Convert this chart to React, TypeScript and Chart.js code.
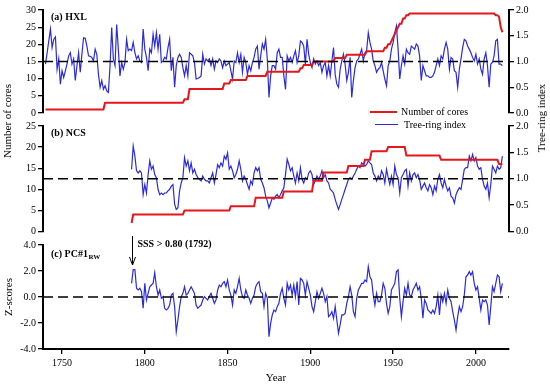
import React, { useEffect, useRef } from 'react';
import { Chart, registerables } from 'chart.js';

Chart.register(...registerables);

// ---------- data ----------
const X_MIN = 1738.5;
const X_MAX = 2020;
const xTickYears = [1750, 1800, 1850, 1900, 1950, 2000];
const SSS_YEAR = 1792;

// (a) HXL tree-ring index, annual from 1740
const hxlStart = 1740;
const hxlIndex = [
  0.95, 1.17, 1.40, 1.63, 1.27, 1.43, 1.48, 0.85, 1.05, 0.56,
  0.82, 0.69, 0.82, 0.95, 1.11, 1.17, 0.95, 1.05, 0.63, 0.92,
  1.17, 0.79, 1.14, 1.46, 1.45, 1.30, 1.11, 1.10, 1.08, 1.01,
  1.24, 1.14, 0.75, 0.50, 0.63, 0.46, 0.53, 0.43, 0.40, 0.92,
  1.66, 1.05, 0.92, 1.72, 1.24, 0.72, 0.98, 0.85, 0.98, 1.43,
  1.21, 1.24, 1.21, 1.37, 1.17, 1.05, 1.11, 1.01, 0.98, 1.63,
  1.24, 1.08, 0.82, 1.24, 1.17, 1.53, 1.30, 1.56, 1.24, 1.53,
  0.98, 1.01, 1.08, 1.05, 1.27, 1.43, 0.82, 1.08, 0.50, 0.92,
  1.08, 1.14, 1.08, 0.88, 0.72, 0.92, 0.72, 1.17, 1.14, 1.11,
  0.98, 0.66, 0.67, 0.69, 0.72, 1.14, 0.95, 1.05, 1.01, 1.05,
  0.92, 1.05, 0.85, 1.01, 0.98, 1.05, 1.01, 0.88, 1.01, 0.92,
  0.95, 0.98, 0.82, 0.66, 1.01, 0.98, 1.17, 0.98, 1.14, 0.79,
  1.08, 0.98, 0.75, 0.92, 0.82, 0.98, 1.08, 1.24, 1.30, 0.85,
  1.11, 1.34, 1.24, 1.43, 1.05, 0.30, 0.72, 0.92, 0.92, 0.85,
  1.17, 1.24, 1.08, 1.08, 0.72, 0.46, 1.11, 1.01, 1.08, 0.98,
  1.11, 1.21, 0.98, 1.11, 1.40, 1.37, 1.30, 0.95, 1.43, 1.14,
  0.98, 0.88, 1.05, 0.95, 1.01, 0.92, 0.98, 0.79, 0.92, 0.98,
  0.72, 0.92, 0.72, 1.01, 1.27, 0.75, 0.56, 0.50, 0.85, 1.01,
  1.14, 0.95, 0.63, 0.79, 1.08, 0.30, 0.63, 0.88, 1.01, 1.05,
  1.14, 1.24, 1.01, 1.17, 1.21, 1.56, 1.37, 1.24, 1.01, 0.92,
  0.79, 0.85, 0.88, 0.98, 0.82, 0.66, 0.53, 0.92, 1.01, 1.24,
  1.37, 1.56, 1.69, 1.24, 0.66, 0.92, 1.11, 0.95, 1.24, 1.17,
  1.14, 1.30, 1.27, 1.24, 1.34, 1.30, 1.11, 0.63, 0.92, 0.82,
  0.72, 0.72, 0.69, 0.69, 0.72, 0.79, 0.92, 1.05, 0.92, 1.11,
  1.05, 1.24, 1.37, 1.24, 0.85, 1.08, 1.05, 0.82, 0.79, 0.50,
  0.85, 1.05, 1.27, 1.43, 1.40, 1.30, 1.24, 1.17, 1.08, 1.01,
  1.14, 0.95, 1.05, 0.85, 0.75, 1.05, 1.17, 0.92, 0.50, 0.95,
  0.98, 1.11, 1.40, 1.43, 0.95, 0.95, 0.92,
];

// (a) HXL number of cores (change points)
const hxlCoreYears = [
  1740, 1775, 1776, 1823, 1824, 1826, 1827, 1847, 1848, 1851, 1852, 1861, 1862, 1873,
  1874, 1893, 1894, 1895, 1896, 1901, 1902, 1914, 1915, 1921, 1922, 1933, 1934, 1944,
  1945, 1946, 1947, 1948, 1949, 1950, 1951, 1952, 1953, 1954, 1955, 1956, 1957, 1958,
  1959, 1960, 2011, 2012, 2013, 2014, 2015, 2016,
];
const hxlCoreCounts = [
  1, 1, 3, 3, 4, 4, 7, 7, 8.6, 8.6, 9.6, 9.6, 10.8, 10.8,
  12, 12, 13, 13, 14, 14, 15, 15, 16, 16, 17, 17, 18, 18,
  19, 19, 20, 20, 21, 22, 23, 24, 25, 26, 26, 27.5, 27.5, 28.5,
  28.5, 29, 29, 28.5, 28.5, 28, 25, 23.5,
];

// (b) NCS tree-ring index, annual from 1792
const ncsStart = 1792;
const ncsIndex = [
  1.18, 1.62, 1.43, 1.15, 1.11, 1.15, 1.11, 0.70, 0.89, 0.73,
  1.08, 1.34, 1.18, 1.24, 1.08, 1.02, 0.80, 0.70, 0.73, 0.70,
  0.73, 0.73, 0.77, 0.80, 0.86, 0.89, 0.52, 0.42, 0.45, 0.77,
  0.92, 1.02, 1.40, 1.24, 1.34, 1.15, 1.30, 1.11, 1.18, 1.08, 1.02, 0.99,
  0.96, 1.05, 0.99, 0.96, 0.96, 0.92, 1.02, 1.11,
  0.92, 1.08, 1.27, 1.21, 1.30, 1.24, 1.43, 1.37, 1.49, 1.18,
  1.24, 1.15, 1.02, 1.08, 1.18, 1.34, 1.18, 0.96, 1.05, 0.99,
  0.89, 0.80, 0.96, 0.89, 1.11, 1.21, 1.15, 1.21, 0.99, 0.92,
  0.83, 0.67, 0.58, 0.45, 0.54, 0.64, 0.61, 0.67, 0.70, 0.64,
  0.70, 0.77, 0.83, 1.08, 1.37, 1.27, 1.15, 1.21, 1.05, 0.92,
  1.11, 0.96, 1.21, 0.99, 0.92, 1.02, 0.99, 1.11, 1.15, 1.08,
  0.89, 0.96, 1.05, 0.99, 1.05, 1.15, 1.02, 1.08, 0.96, 0.92,
  0.80, 0.77, 0.73, 0.61, 0.51, 0.42, 0.51, 0.61, 0.70, 0.80,
  0.89, 0.99, 1.02, 0.99, 1.05, 1.11, 1.18, 1.24, 1.21, 1.30,
  1.27, 1.24, 1.27, 1.34, 1.30, 1.27, 1.11, 1.05, 0.96, 1.05,
  0.99, 1.15, 1.08, 0.92, 1.18, 1.02, 0.89, 1.05, 0.89, 1.24,
  1.08, 1.02, 0.73, 1.02, 1.08, 1.15, 1.18, 0.86, 1.11, 0.96,
  1.08, 1.11, 1.02, 1.08, 0.99, 0.80, 0.86, 0.92, 0.83, 0.77,
  0.89, 0.83, 0.70, 0.86, 0.77, 0.99, 1.08, 0.92, 0.83, 0.99,
  0.86, 0.77, 0.83, 0.67, 0.64, 0.54, 0.70, 0.77, 0.83, 0.80,
  0.99, 1.18, 1.21, 1.21, 1.43, 1.34, 1.46, 1.34, 1.40, 1.24,
  1.18, 1.21, 0.99, 0.86, 0.80, 0.92, 0.64, 0.89, 1.24, 1.18,
  1.11, 1.24, 1.18, 1.21, 1.43,
];

// (b) NCS number of cores (change points)
const ncsCoreYears = [
  1792, 1793, 1823, 1824, 1851, 1852, 1866, 1867, 1883, 1884, 1901, 1902, 1907, 1908,
  1922, 1923, 1932, 1933, 1936, 1937, 1946, 1947, 1957, 1958, 1978, 1979, 2013, 2014, 2016,
];
const ncsCoreCounts = [
  2, 4, 4, 5, 5, 6, 6, 8, 8, 9.5, 9.5, 12, 12, 14,
  14, 15.5, 15.5, 17, 17, 19, 19, 20, 20, 18, 18, 17, 17, 16, 16,
];

// (c) PC#1 RW z-scores, annual from 1792
const pcStart = 1792;
const pcScores = [
  1.05, 2.10, 2.10, 0.67, 0.54, 0.67, 0.41, -0.87, 1.05, -0.23,
  0.28, 0.79, 0.92, 1.05, 1.87, 0.79, 0.15, 0.54, -0.10, 0.03,
  -0.87, -1.00, -0.87, -0.62, 0.15, 0.28, -0.74, -2.67, -1.77, -0.74,
  0.03, 0.28, 0.79, 0.15, 0.28, 0.54, 0.79, 0.54, 0.28, -0.62, -0.87, -0.74,
  -0.62, -0.23, 0.03, -0.10, -0.23, 0.03, 0.28, -0.10, -0.49, -0.23,
  0.54, 0.92, 0.79, 1.05, 1.18, 0.79, 1.31, 0.54, 0.15, -0.62,
  0.54, 0.28, 0.79, 1.44, 0.54, 0.03, -0.10, 0.54, 0.15, -0.10,
  -0.49, -0.10, 0.15, 0.79, 1.05, 1.18, 0.41, 0.28, -0.74, 0.28,
  -0.10, -3.05, -2.03, -1.38, -1.00, -1.13, -0.74, -0.49, 0.28, 0.67,
  -0.10, -0.62, 1.05, 0.54, 0.92, 0.15, 0.92, 0.03, 1.18, -0.62,
  1.44, 1.31, 1.05, 0.15, 1.18, 0.67, 0.15, -0.74, -1.13, -0.36,
  0.41, -0.10, 0.28, 0.67, 0.28, -0.36, 0.03, -1.51, -1.38, -1.13,
  -1.64, -0.74, -1.77, -2.79, -2.15, -1.38, -1.38, -1.26, -0.49, 0.03,
  0.79, 0.15, -1.13, -1.51, -0.10, 0.54, 0.79, 1.05, 1.05, 1.31,
  1.18, 2.33, 1.56, 1.31, 0.15, -0.62, 0.28, -0.36,
  -0.36, 0.15, 1.05, 0.67, -0.49, -1.26, -0.74, 0.54, 0.79, 1.05,
  1.95, 2.08, -0.10, -1.51, -0.36, 0.67, 0.15, 1.05, 0.15, 0.03,
  0.54, 0.79, 1.05, 0.54, 0.79, -0.10, -1.64, -0.23, -0.49, -1.00,
  -1.13, -1.26, -1.00, -1.26, -0.74, 0.15, -1.38, 0.15, -0.36, 0.28,
  -0.49, 0.54, -0.10, -0.36, -1.13, -1.77, -2.54, -1.51, -0.74, -1.13,
  -0.74, 0.15, 1.56, 1.69, 1.95, 1.69, 1.95, 1.05, 0.54, 0.79,
  -0.10, -1.00, -0.23, -0.36, -0.23, -0.62, -2.15, -0.74, 0.79, 0.41,
  1.05, 1.69, 1.56, 0.41, 1.05,
];

const indexMean = 1.0;
const zMean = 0.0;

// ---------- styling ----------
const FONT = '"Liberation Serif", "Times New Roman", Times, serif';
const RED = '#e5161c';
const BLUE = '#2b2bdb';
const W = 550;
const H = 387;

const annual = (start: number, vals: number[]) => vals.map((v, i) => ({ x: start + i, y: v }));
const pairs = (xs: number[], ys: number[]) => xs.map((x, i) => ({ x, y: ys[i] }));

const tickFont = { family: FONT, size: 10 };

function yAxis(position: 'left' | 'right', min: number, max: number, step: number, width: number, decimals: number, title?: string) {
  return {
    type: 'linear',
    position,
    min,
    max,
    ticks: {
      stepSize: step,
      color: '#000',
      font: tickFont,
      padding: 2,
      callback: (v: any) => Number(v).toFixed(decimals),
    },
    grid: { drawOnChartArea: false, drawTicks: true, tickLength: 5, color: '#000', lineWidth: 1.3 },
    border: { display: true, color: '#000', width: 2 },
    title: title
      ? { display: true, text: title, color: '#000', font: { family: FONT, size: 11 }, padding: { top: 3, bottom: 0 } }
      : { display: false },
    afterFit: (s: any) => {
      s.width = width;
    },
  };
}

function hiddenX() {
  return { type: 'linear', min: X_MIN, max: X_MAX, display: false };
}

function meanLine(value: number, axis: string) {
  return {
    data: [
      { x: X_MIN, y: value },
      { x: X_MAX, y: value },
    ],
    yAxisID: axis,
    borderColor: '#000',
    borderWidth: 1.6,
    borderDash: [10, 5],
    pointRadius: 0,
  };
}

function panelLabel(main: string, sub: string | null, dy: number) {
  return {
    id: 'panelLabel',
    afterDraw(chart: any) {
      const { ctx, chartArea } = chart;
      ctx.save();
      ctx.fillStyle = '#000';
      ctx.font = `bold 10px ${FONT}`;
      ctx.textBaseline = 'middle';
      const x = chartArea.left + 8;
      const y = chartArea.top + dy;
      ctx.fillText(main, x, y);
      if (sub) {
        const w = ctx.measureText(main).width;
        ctx.font = `bold 7px ${FONT}`;
        ctx.fillText(sub, x + w + 0.5, y + 3.5);
      }
      ctx.restore();
    },
  };
}

const sssPlugin = {
  id: 'sss',
  afterDraw(chart: any) {
    const { ctx, chartArea, scales } = chart;
    const x = Math.round(scales.x.getPixelForValue(SSS_YEAR)) + 0.5;
    const top = chartArea.top;
    ctx.save();
    ctx.strokeStyle = '#000';
    ctx.lineWidth = 1;
    ctx.beginPath();
    ctx.moveTo(x, top - 9);
    ctx.lineTo(x, top + 20);
    ctx.stroke();
    ctx.beginPath();
    ctx.moveTo(x - 3, top + 12);
    ctx.lineTo(x, top + 20);
    ctx.lineTo(x + 3, top + 12);
    ctx.stroke();
    ctx.fillStyle = '#000';
    ctx.font = `bold 10px ${FONT}`;
    ctx.textBaseline = 'middle';
    ctx.fillText('SSS > 0.80 (1792)', x + 5, top - 1);
    ctx.restore();
  },
};

const common = {
  responsive: false,
  maintainAspectRatio: false,
  animation: false,
  events: [],
  plugins: { legend: { display: false }, tooltip: { enabled: false } },
  elements: { line: { tension: 0 }, point: { radius: 0 } },
};

function makeA(canvas: HTMLCanvasElement) {
  return new Chart(canvas, {
    type: 'line',
    data: {
      datasets: [
        meanLine(indexMean, 'y1'),
        { label: 'Number of cores', data: pairs(hxlCoreYears, hxlCoreCounts), yAxisID: 'y', borderColor: RED, borderWidth: 2, pointRadius: 0 },
        { label: 'Tree-ring index', data: annual(hxlStart, hxlIndex), yAxisID: 'y1', borderColor: BLUE, borderWidth: 1.2, pointRadius: 0 },
      ],
    } as any,
    options: {
      ...common,
      layout: { padding: { top: 10, bottom: H - 113, left: 0, right: 0 } },
      scales: {
        x: hiddenX(),
        y: yAxis('left', 0, 30, 5, 43, 0),
        y1: yAxis('right', 0, 2, 0.5, 41, 1),
      },
    } as any,
    plugins: [panelLabel('(a) HXL', null, 7)] as any,
  });
}

function makeB(canvas: HTMLCanvasElement) {
  return new Chart(canvas, {
    type: 'line',
    data: {
      datasets: [
        meanLine(indexMean, 'y1'),
        { label: 'Number of cores', data: pairs(ncsCoreYears, ncsCoreCounts), yAxisID: 'y', borderColor: RED, borderWidth: 2, pointRadius: 0 },
        { label: 'Tree-ring index', data: annual(ncsStart, ncsIndex), yAxisID: 'y1', borderColor: BLUE, borderWidth: 1.2, pointRadius: 0 },
      ],
    } as any,
    options: {
      ...common,
      layout: { padding: { top: 126, bottom: H - 231.5, left: 0, right: 0 } },
      scales: {
        x: hiddenX(),
        y: yAxis('left', 0, 25, 5, 43, 0),
        y1: yAxis('right', 0, 2, 0.5, 41, 1),
      },
    } as any,
    plugins: [panelLabel('(b) NCS', null, 7)] as any,
  });
}

function makeC(canvas: HTMLCanvasElement) {
  return new Chart(canvas, {
    type: 'line',
    data: {
      datasets: [
        meanLine(zMean, 'y'),
        { label: 'PC#1 RW', data: annual(pcStart, pcScores), yAxisID: 'y', borderColor: BLUE, borderWidth: 1.2, pointRadius: 0 },
      ],
    } as any,
    options: {
      ...common,
      layout: { padding: { top: 245, bottom: 0, left: 0, right: 41 } },
      scales: {
        x: {
          type: 'linear',
          position: 'bottom',
          min: X_MIN,
          max: X_MAX,
          afterBuildTicks: (s: any) => {
            s.ticks = xTickYears.map((v) => ({ value: v }));
          },
          ticks: { color: '#000', font: tickFont, padding: 3, autoSkip: false, maxRotation: 0, callback: (v: any) => String(v) },
          grid: { drawOnChartArea: false, drawTicks: true, tickLength: 5, color: '#000', lineWidth: 1.3 },
          border: { display: true, color: '#000', width: 2 },
          title: { display: true, text: 'Year', color: '#000', font: { family: FONT, size: 11 }, padding: { top: 0, bottom: 2 } },
          afterFit: (s: any) => {
            s.height = 38;
          },
        },
        y: yAxis('left', -4, 4, 2, 43, 1, 'Z-scores'),
      },
    } as any,
    plugins: [panelLabel('(c) PC#1', 'RW', 9), sssPlugin] as any,
  });
}

const abs: React.CSSProperties = { position: 'absolute', left: 0, top: 0 };
const txt: React.CSSProperties = {
  position: 'absolute',
  fontFamily: FONT,
  fontSize: 11,
  lineHeight: '12px',
  color: '#000',
  whiteSpace: 'nowrap',
};

export default function App() {
  const a = useRef<HTMLCanvasElement>(null);
  const b = useRef<HTMLCanvasElement>(null);
  const c = useRef<HTMLCanvasElement>(null);

  useEffect(() => {
    const charts = [makeA(a.current!), makeB(b.current!), makeC(c.current!)];
    return () => charts.forEach((ch) => ch.destroy());
  }, []);

  return (
    <div style={{ position: 'absolute', left: 0, top: 0, width: W, height: H, background: '#fff', overflow: 'hidden' }}>
      <canvas ref={a} width={W} height={H} style={abs} />
      <canvas ref={b} width={W} height={H} style={abs} />
      <canvas ref={c} width={W} height={H} style={abs} />
      {/* shared axis titles */}
      <div style={{ ...txt, left: 7, top: 121, transform: 'translate(-50%, -50%) rotate(-90deg)' }}>Number of cores</div>
      <div style={{ ...txt, left: 541, top: 118, transform: 'translate(-50%, -50%) rotate(-90deg)' }}>Tree-ring index</div>
      {/* legend */}
      <div style={{ position: 'absolute', left: 370, top: 111, width: 27, height: 2, background: RED }} />
      <div style={{ ...txt, fontSize: 10, left: 401, top: 106 }}>Number of cores</div>
      <div style={{ position: 'absolute', left: 375, top: 124, width: 23, height: 1, background: BLUE }} />
      <div style={{ ...txt, fontSize: 10, left: 404, top: 119 }}>Tree-ring index</div>
    </div>
  );
}
